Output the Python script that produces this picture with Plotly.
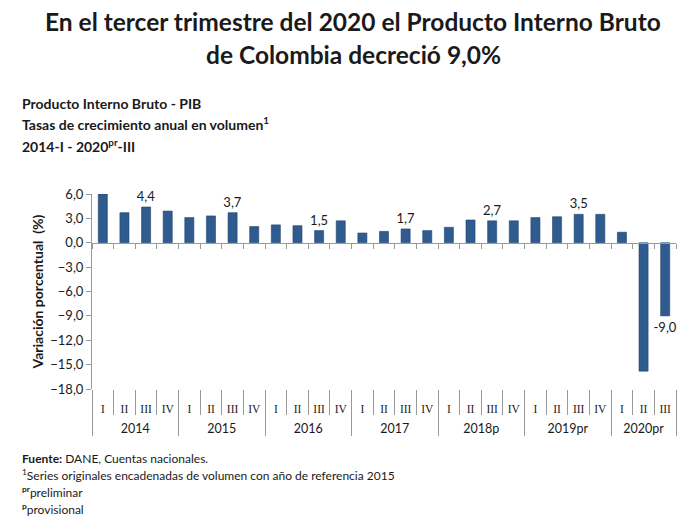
import plotly.graph_objects as go

years = ["2014", "2015", "2016", "2017", "2018p", "2019pr", "2020pr"]
quarters = ["I", "II", "III", "IV"]
n_quarters_per_year = [4, 4, 4, 4, 4, 4, 3]

values = [6.0, 3.7, 4.4, 3.9,
          3.1, 3.3, 3.7, 2.0,
          2.2, 2.1, 1.5, 2.7,
          1.2, 1.4, 1.7, 1.5,
          1.9, 2.8, 2.7, 2.7,
          3.1, 3.2, 3.5, 3.5,
          1.3, -15.8, -9.0]

labelled_quarter = "III"
y_ticks = [6, 3, 0, -3, -6, -9, -12, -15, -18]

# build category arrays
outer, inner, flat = [], [], []
for y, n in zip(years, n_quarters_per_year):
    for q in quarters[:n]:
        outer.append(y)
        inner.append("<span style='font-family:Liberation Serif;font-size:11.5px'>" + q
                     + "</span><br><span style='font-size:9px'>&nbsp;</span>")
        flat.append(y + "-" + q)

qs = [q for y, n in zip(years, n_quarters_per_year) for q in quarters[:n]]
texts = [(f"{v:.1f}".replace(".", ",") if q == labelled_quarter else "") for v, q in zip(values, qs)]

# page offset (body margin) compensation
OFF = 8
W, H = 694 - OFF, 524 - OFF
L, R, T = 92 - OFF, 694 - 676, 194 - OFF
B = H - (389 - OFF)
PW, PH = W - L - R, H - T - B

def px(x):
    return (x - OFF - L) / PW

def py(y):
    return (H - B - (y - OFF)) / PH

font_main = "Lato"
dark = "#1a1a1a"

fig = go.Figure()
fig.add_trace(go.Bar(
    x=[outer, inner], y=values,
    marker=dict(color="#2F5B8E", line=dict(color="#24476F", width=0.6)),
    width=0.42,
    text=texts, textposition="outside", cliponaxis=False, constraintext="none",
    textfont=dict(family=font_main, size=13, color=dark),
    showlegend=False, hoverinfo="skip",
))
fig.add_trace(go.Scatter(
    x=flat, y=values, xaxis="x2", mode="none",
    showlegend=False, hoverinfo="skip",
))

fig.update_layout(
    width=W, height=H,
    margin=dict(l=L, r=R, t=T, b=B, autoexpand=False),
    paper_bgcolor="white", plot_bgcolor="white",
    separators=",.",
    font=dict(family=font_main, color=dark),
    xaxis=dict(
        type="multicategory", range=[-0.5, len(values) - 0.5], automargin=False,
        showline=False, showgrid=False, zeroline=False, tickangle=0,
        ticks="outside", tickson="boundaries", ticklen=25, tickcolor="#9a9a9a",
        ticklabelstandoff=10,
        dividercolor="#9a9a9a", dividerwidth=1,
        tickfont=dict(family=font_main, size=12.5, color=dark),
    ),
    xaxis2=dict(
        type="category", overlaying="x", anchor="free", side="bottom",
        position=(0 - y_ticks[-1]) / (y_ticks[0] - y_ticks[-1]),
        range=[-0.5, len(values) - 0.5], automargin=False,
        showline=True, linecolor="#9a9a9a", linewidth=1,
        ticks="outside", tickson="boundaries", ticklen=5, tickcolor="#9a9a9a",
        showticklabels=False, showgrid=False, zeroline=False,
    ),
    yaxis=dict(
        range=[y_ticks[-1], y_ticks[0]], automargin=False,
        tickvals=y_ticks, tickformat=".1f",
        showline=True, linecolor="#9a9a9a", linewidth=1,
        ticks="outside", ticklen=5, tickcolor="#9a9a9a",
        showgrid=False, zeroline=False,
        tickfont=dict(family=font_main, size=13, color=dark),
        title=dict(text="<b>Variación porcentual  (%)</b>",
                   font=dict(family=font_main, size=14, color=dark), standoff=3),
    ),
)

ann = []
ann.append(dict(text="<b>En el tercer trimestre del 2020 el Producto Interno Bruto</b>",
                x=px(353), y=py(21), xanchor="center", yanchor="middle",
                font=dict(size=24.5, color=dark)))
ann.append(dict(text="<b>de Colombia decreció 9,0%</b>",
                x=px(353), y=py(54), xanchor="center", yanchor="middle",
                font=dict(size=24.5, color=dark)))
for txt, yy in [("<b>Producto Interno Bruto - PIB</b>", 103),
                ("<b>Tasas de crecimiento anual en volumen<sup>1</sup></b>", 124),
                ("<b>2014-I - 2020<sup>pr</sup>-III</b>", 145)]:
    ann.append(dict(text=txt, x=px(20), y=py(yy), xanchor="left", yanchor="middle",
                    font=dict(size=14, color=dark)))
for txt, yy in [("<b>Fuente:</b> DANE, Cuentas nacionales.", 458),
                ("<sup>1</sup>Series originales encadenadas de volumen con año de referencia 2015", 475),
                ("<b><sup>pr</sup></b>preliminar", 492),
                ("<b><sup>p</sup></b>provisional", 509)]:
    ann.append(dict(text=txt, x=px(20), y=py(yy), xanchor="left", yanchor="middle",
                    font=dict(size=12, color=dark)))
for a in ann:
    a.update(xref="paper", yref="paper", showarrow=False, align="left")
fig.update_layout(annotations=ann)

fig.write_html("out.html")
